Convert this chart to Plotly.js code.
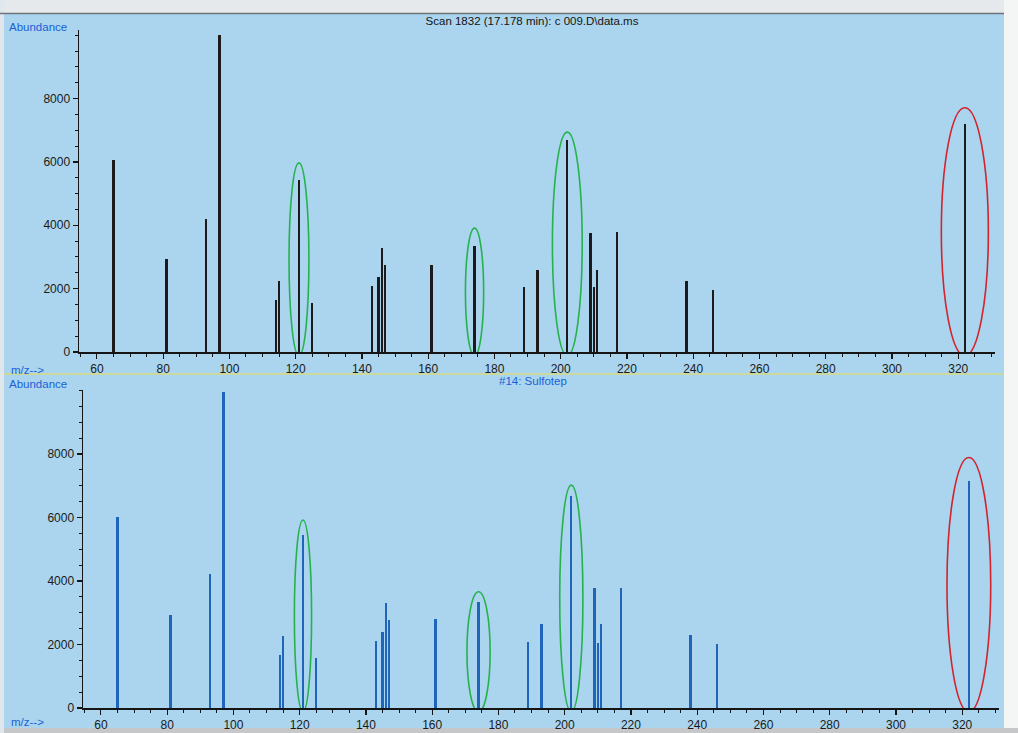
<!DOCTYPE html>
<html>
<head>
<meta charset="utf-8">
<script src="https://cdn.plot.ly/plotly-3.0.1.min.js"></script>
<style>
  html, body { margin: 0; padding: 0; background: #abd5ee; }
  #chart { width: 1018px; height: 733px; }
</style>
</head>
<body>
<div id="chart"></div>
<script>
// ---- data ----
const mz = [65, 81, 93, 97, 114, 115, 121, 125, 143, 145, 146, 147, 161, 174, 189, 193, 202, 209, 210, 211, 217, 238, 246, 322];
const scanAbundance = [6050, 2920, 4210, 10000, 1650, 2240, 5440, 1550, 2080, 2370, 3280, 2740, 2740, 3350, 2050, 2580, 6680, 3770, 2050, 2580, 3790, 2240, 1970, 7190];
const libraryAbundance = [6030, 2930, 4220, 9960, 1670, 2280, 5450, 1590, 2110, 2400, 3300, 2770, 2800, 3350, 2090, 2650, 6690, 3790, 2060, 2650, 3790, 2300, 2010, 7150];
const highlightedIons = [121, 174, 202, 322];
const xTickValues = [60, 80, 100, 120, 140, 160, 180, 200, 220, 240, 260, 280, 300, 320];
const yTickValues = [0, 2000, 4000, 6000, 8000];
const scanTitle = 'Scan 1832 (17.178 min): c 009.D\\data.ms';
const libraryTitle = '#14: Sulfotep';

// ---- layout helpers ----
const W = 1018, H = 733;
const px = v => v / W;
const py = v => 1 - v / H;
const BG = '#abd5ee';
const BLUE_TXT = '#1a5fd6';
const AX = '#151515';
const tickFont = { family: 'Liberation Sans Narrow, Liberation Sans, Arial, sans-serif', size: 12, color: '#1a1a1a' };

const traces = [
  { type: 'bar', x: mz, y: scanAbundance, width: 0.66, xaxis: 'x', yaxis: 'y',
    marker: { color: '#1b1b1b', line: { width: 0 } }, hoverinfo: 'x+y' },
  { type: 'bar', x: mz, y: libraryAbundance, width: 0.7, xaxis: 'x2', yaxis: 'y2',
    marker: { color: '#1f65ba', line: { width: 0 } }, hoverinfo: 'x+y' }
];

// ellipse geometry per highlighted ion (half width in m/z, pad above peak)
const topGeom = [[3.0, 530], [2.75, 560], [4.5, 260], [7.1, 520]];
const botGeom = [[2.6, 470], [3.5, 310], [3.5, 330], [6.6, 740]];
const shapes = [];
highlightedIons.forEach((ion, i) => {
  const k = mz.indexOf(ion);
  const col = ion === 322 ? '#d3232c' : '#25b24c';
  shapes.push({ type: 'circle', xref: 'x', yref: 'y',
    x0: ion - topGeom[i][0], x1: ion + topGeom[i][0],
    y0: -120, y1: scanAbundance[k] + topGeom[i][1],
    line: { color: col, width: 1.6 } });
  shapes.push({ type: 'circle', xref: 'x2', yref: 'y2',
    x0: ion - botGeom[i][0], x1: ion + botGeom[i][0],
    y0: -120, y1: libraryAbundance[k] + botGeom[i][1],
    line: { color: col, width: 1.6 } });
});
// scan-edge decoration and panel separator
shapes.push({ type: 'rect', xref: 'paper', yref: 'paper', x0: 0, x1: 1, y0: py(13), y1: 1, fillcolor: '#e6e9eb', line: { width: 0 }, layer: 'below' });
shapes.push({ type: 'line', xref: 'paper', yref: 'paper', x0: 0, x1: px(1004), y0: py(13.5), y1: py(13.5), line: { color: '#6d747a', width: 1.5 } });
shapes.push({ type: 'rect', xref: 'paper', yref: 'paper', x0: px(1004), x1: 1, y0: 0, y1: 1, fillcolor: '#f4f5f5', line: { width: 0 }, layer: 'below' });
shapes.push({ type: 'rect', xref: 'paper', yref: 'paper', x0: 0, x1: 1, y0: 0, y1: py(728), fillcolor: '#c5c7c8', line: { width: 0 }, layer: 'below' });
shapes.push({ type: 'rect', xref: 'paper', yref: 'paper', x0: 0, x1: px(4), y0: 0, y1: 1, fillcolor: '#dfe7ec', line: { width: 0 }, layer: 'below' });
shapes.push({ type: 'line', xref: 'paper', yref: 'paper', x0: px(4), x1: px(1004), y0: py(374), y1: py(374), line: { color: '#cbd99c', width: 2 } });

const txt = (t, x, y, anchor, color, size) => ({
  text: t, xref: 'paper', yref: 'paper', x: px(x), y: py(y),
  xanchor: anchor, yanchor: 'middle', showarrow: false,
  font: { family: 'Liberation Sans, Arial, sans-serif', size: size, color: color }
});

const xAxisBase = {
  range: [54.6, 331.1], tickmode: 'array', tickvals: xTickValues,
  ticks: 'outside', ticklen: 5, tickwidth: 1.2, tickcolor: AX,
  showline: true, linecolor: AX, linewidth: 1.5,
  showgrid: false, zeroline: false, tickfont: tickFont, fixedrange: true,
  minor: { dtick: 5, tick0: 60, ticks: 'outside', ticklen: 3, tickcolor: AX, tickwidth: 1, showgrid: false }
};
const yAxisBase = {
  tickmode: 'array', tickvals: yTickValues,
  ticks: 'outside', ticklen: 5, tickwidth: 1.2, tickcolor: AX,
  showline: true, linecolor: AX, linewidth: 1.5,
  showgrid: false, zeroline: false, tickfont: tickFont, fixedrange: true,
  minor: { dtick: 500, tick0: 0, ticks: 'outside', ticklen: 2.5, tickcolor: AX, tickwidth: 1, showgrid: false }
};

const layout = {
  width: W, height: H,
  margin: { l: 0, r: 0, t: 0, b: 0 },
  paper_bgcolor: BG, plot_bgcolor: BG,
  showlegend: false,
  bargap: 0,
  title: { text: scanTitle, x: px(532), y: py(21), xanchor: 'center', yanchor: 'middle',
           font: { family: 'Liberation Sans, Arial, sans-serif', size: 11.5, color: '#141414' } },
  xaxis: Object.assign({}, xAxisBase, { domain: [px(79), px(995)], anchor: 'y' }),
  yaxis: Object.assign({}, yAxisBase, { domain: [py(352), py(30)], range: [0, 10164], anchor: 'x' }),
  xaxis2: Object.assign({}, xAxisBase, { domain: [px(83), px(999)], anchor: 'y2' }),
  yaxis2: Object.assign({}, yAxisBase, { domain: [py(708), py(390)], range: [0, 10016], anchor: 'x2' }),
  shapes: shapes,
  annotations: [
    txt('Abundance', 7, 27, 'left', BLUE_TXT, 11.5),
    txt('m/z-->', 9, 370, 'left', BLUE_TXT, 11.5),
    txt('Abundance', 7, 384, 'left', BLUE_TXT, 11.5),
    txt(libraryTitle, 533, 381, 'center', BLUE_TXT, 11.5),
    txt('m/z-->', 9, 722, 'left', BLUE_TXT, 11.5)
  ]
};

Plotly.newPlot('chart', traces, layout, { displayModeBar: false, staticPlot: true });
</script>
</body>
</html>
